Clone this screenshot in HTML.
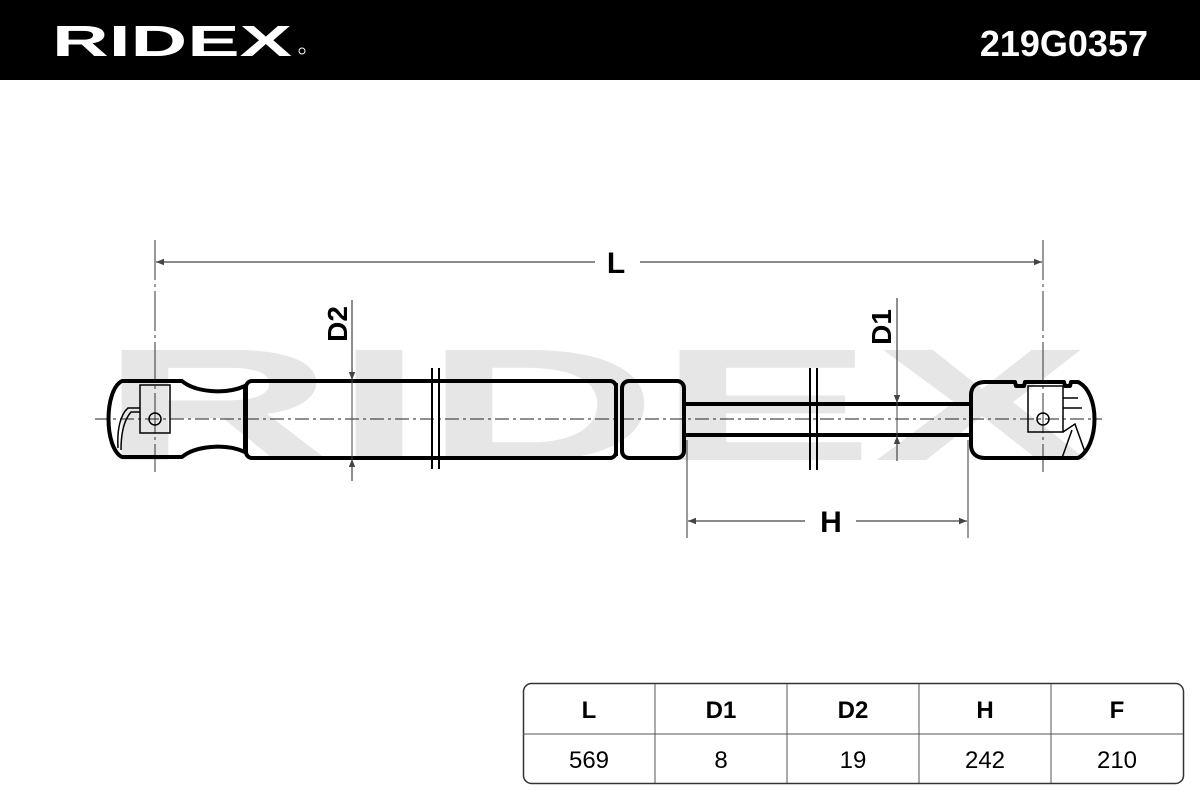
<!DOCTYPE html>
<html><head><meta charset="utf-8"><style>
html,body{margin:0;padding:0;background:#fff;width:1200px;height:800px;overflow:hidden}
svg{display:block}
text{font-family:"Liberation Sans",sans-serif}
</style></head><body>
<svg width="1200" height="800" viewBox="0 0 1200 800" xmlns="http://www.w3.org/2000/svg">
<defs>
<marker id="ar" viewBox="0 0 10 10" refX="10" refY="5" markerWidth="10" markerHeight="8" orient="auto-start-reverse" markerUnits="userSpaceOnUse"><path d="M0,1 L10,5 L0,9 Z" fill="#444"/></marker>
</defs>
<rect x="0" y="0" width="1200" height="80" fill="#000"/>
<text x="52" y="56" font-size="44" font-weight="bold" fill="#fff" textLength="240" lengthAdjust="spacingAndGlyphs">RIDEX</text>
<circle cx="302" cy="51" r="3" fill="none" stroke="#fff" stroke-width="1"/>
<text x="1148" y="56" font-size="36" font-weight="bold" fill="#fff" text-anchor="end">219G0357</text>

<!-- watermark -->
<text x="100" y="460" font-size="160" font-weight="bold" fill="#e6e6e6" textLength="990" lengthAdjust="spacingAndGlyphs">RIDEX</text>

<!-- center line -->
<line x1="95" y1="419" x2="1102" y2="419" stroke="#222" stroke-width="1" stroke-dasharray="14,4,3,4"/>
<!-- extension lines -->
<line x1="155" y1="240" x2="155" y2="472" stroke="#333" stroke-width="1" stroke-dasharray="40,4,3,4"/>
<line x1="1043" y1="240" x2="1043" y2="472" stroke="#333" stroke-width="1" stroke-dasharray="40,4,3,4"/>
<line x1="687" y1="440" x2="687" y2="538" stroke="#333" stroke-width="1"/>
<line x1="968" y1="440" x2="968" y2="538" stroke="#333" stroke-width="1"/>

<!-- L dim -->
<line x1="156" y1="262" x2="595" y2="262" stroke="#444" stroke-width="1.2" marker-start="url(#ar)"/>
<line x1="640" y1="262" x2="1042" y2="262" stroke="#444" stroke-width="1.2" marker-end="url(#ar)"/>
<text x="616" y="273" font-size="30" font-weight="bold" text-anchor="middle">L</text>
<!-- H dim -->
<line x1="688" y1="521" x2="805" y2="521" stroke="#444" stroke-width="1.2" marker-start="url(#ar)"/>
<line x1="856" y1="521" x2="967" y2="521" stroke="#444" stroke-width="1.2" marker-end="url(#ar)"/>
<text x="831" y="532" font-size="30" font-weight="bold" text-anchor="middle">H</text>

<!-- body -->
<g fill="none" stroke="#000" stroke-width="4" stroke-linejoin="round">
<!-- left end -->
<path d="M122,381 L182,381 C195,392 225,395 245,386 L245,452 C225,443 195,446 182,457 L122,457 C104,448 104,390 122,381 Z" fill="#fff" fill-opacity="0"/>
<rect x="246" y="381" width="370" height="77" rx="6"/>
<rect x="622" y="381" width="62" height="77" rx="7"/>
<line x1="684" y1="404" x2="972" y2="404"/>
<line x1="684" y1="435" x2="972" y2="435"/>
<path d="M985,382 L1015,382 L1016,386 L1024,386 L1025,382 L1064,382 L1065,386 L1070,386 L1071,382 L1078,382 C1100,392 1100,446 1078,458 L985,458 C975,458 971,452 971,445 L971,395 C971,388 975,382 985,382 Z"/>
</g>
<g fill="none" stroke="#000" stroke-width="1.5">
<rect x="140" y="385" width="30" height="48"/>
<circle cx="155" cy="419" r="6"/>
<path d="M140,408 L128,408 C120,415 117,430 118,448"/>
<path d="M140,412 L131,412 C124,420 121,432 121,450"/>
<rect x="1028" y="386" width="35" height="46"/>
<circle cx="1043" cy="419" r="6"/>
<path d="M1063,398 L1078,398 M1063,408 L1082,408 M1063,432 L1075,424 L1085,452 M1072,430 L1062,458"/>
</g>
<!-- break marks -->
<g stroke="#000" stroke-width="2">
<line x1="432" y1="368" x2="432" y2="469"/><line x1="439" y1="368" x2="439" y2="469"/>
<line x1="810" y1="368" x2="810" y2="470"/><line x1="817" y1="368" x2="817" y2="470"/>
<line x1="617" y1="383" x2="617" y2="456"/>
</g>

<!-- D2 -->
<line x1="352" y1="300" x2="352" y2="380" stroke="#444" stroke-width="1.2" marker-end="url(#ar)"/>
<line x1="352" y1="380" x2="352" y2="459" stroke="#444" stroke-width="1"/>
<line x1="352" y1="481" x2="352" y2="459" stroke="#444" stroke-width="1.2" marker-end="url(#ar)"/>
<text transform="translate(347,324) rotate(-90)" font-size="28" font-weight="bold" text-anchor="middle">D2</text>
<!-- D1 -->
<line x1="897" y1="298" x2="897" y2="403" stroke="#444" stroke-width="1.2" marker-end="url(#ar)"/>
<line x1="897" y1="403" x2="897" y2="436" stroke="#444" stroke-width="1"/>
<line x1="897" y1="461" x2="897" y2="436" stroke="#444" stroke-width="1.2" marker-end="url(#ar)"/>
<text transform="translate(891,327) rotate(-90)" font-size="28" font-weight="bold" text-anchor="middle">D1</text>

<!-- table -->
<rect x="523.5" y="683.5" width="660" height="100" rx="8" fill="none" stroke="#333" stroke-width="1.5"/>
<g stroke="#555" stroke-width="1">
<line x1="523" y1="734" x2="1183" y2="734"/>
<line x1="655" y1="684" x2="655" y2="783"/><line x1="787" y1="684" x2="787" y2="783"/>
<line x1="919" y1="684" x2="919" y2="783"/><line x1="1051" y1="684" x2="1051" y2="783"/>
</g>
<g font-size="24" font-weight="bold" text-anchor="middle">
<text x="589" y="718">L</text><text x="721" y="718">D1</text><text x="853" y="718">D2</text><text x="985" y="718">H</text><text x="1117" y="718">F</text>
</g>
<g font-size="24" text-anchor="middle">
<text x="589" y="768">569</text><text x="721" y="768">8</text><text x="853" y="768">19</text><text x="985" y="768">242</text><text x="1117" y="768">210</text>
</g>
</svg>
</body></html>
